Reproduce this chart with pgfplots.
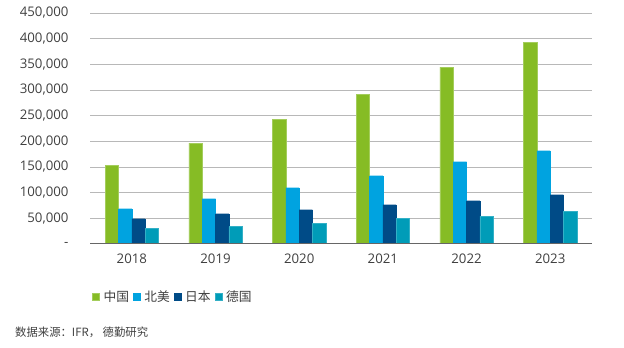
\documentclass[border=0pt]{standalone}
\usepackage{pgfplots}
\pgfplotsset{compat=1.18}
\usepackage{fontspec}
\setmainfont{Open Sans}
\newfontfamily\cjk{Noto Sans CJK SC}
\definecolor{cgreen}{HTML}{86BC25}
\definecolor{cblue}{HTML}{00A3E0}
\definecolor{cdark}{HTML}{004B87}
\definecolor{cteal}{HTML}{009CB8}
\definecolor{cgrid}{HTML}{B8B8B8}
\definecolor{ctext}{HTML}{404040}
\begin{document}
\begin{tikzpicture}
\path[use as bounding box] (0,0) rectangle (624bp,348bp);
\begin{axis}[
  at={(90bp,104bp)}, anchor=south west,
  width=502bp, height=231bp, scale only axis,
  ybar=0pt, bar width=13.3bp,
  xmin=-0.5, xmax=5.5, ymin=0, ymax=450000,
  xtick={0,1,2,3,4,5},
  xticklabels={2018,2019,2020,2021,2022,2023},
  ytick={0,50000,100000,150000,200000,250000,300000,350000,400000,450000},
  yticklabels={{-},{50,000},{100,000},{150,000},{200,000},{250,000},{300,000},{350,000},{400,000},{450,000}},
  scaled y ticks=false,
  ymajorgrids, grid style={cgrid, line width=1bp},
  axis line style={draw=none},
  major tick length=0pt,
  tick label style={font=\fontsize{13.3}{15}\selectfont, text=ctext},
  yticklabel style={xshift=-18bp},
  xticklabel style={yshift=-6bp},
  legend style={at={(rel axis cs:0.165,-0.23)}, anchor=center, draw=none,
    font=\cjk\fontsize{12.8}{14}\selectfont, text=ctext,
    legend columns=4, column sep=2bp, inner sep=0pt},
  legend image code/.code={\fill[#1] (0bp,-3.5bp) rectangle (7bp,3.5bp);},
  legend cell align=left,
]
\addplot[fill=cgreen, draw=cgreen!75!white, line width=0.5bp] coordinates {(0,152500) (1,196700) (2,243500) (3,292200) (4,344800) (5,393500)};
\addplot[fill=cblue, draw=cblue, line width=0.3bp] coordinates {(0,68800) (1,88200) (2,109700) (3,133000) (4,160300) (5,181800)};
\addplot[fill=cdark, draw=cdark, line width=0.3bp] coordinates {(0,49300) (1,59000) (2,66800) (3,76600) (4,84300) (5,96000)};
\addplot[fill=cteal, draw=cteal!80!white, line width=0.5bp] coordinates {(0,29800) (1,33700) (2,40900) (3,49300) (4,54500) (5,62900)};
\legend{中国,北美,日本,德国}
\draw[color=gray!80!black, line width=1bp] (rel axis cs:0,0) -- (rel axis cs:1,0);
\end{axis}
\node[anchor=west, inner sep=0pt, text=ctext, font=\cjk\fontsize{11.4}{13}\selectfont] at (15bp,16bp) {数据来源：IFR， 德勤研究};
\end{tikzpicture}
\end{document}
